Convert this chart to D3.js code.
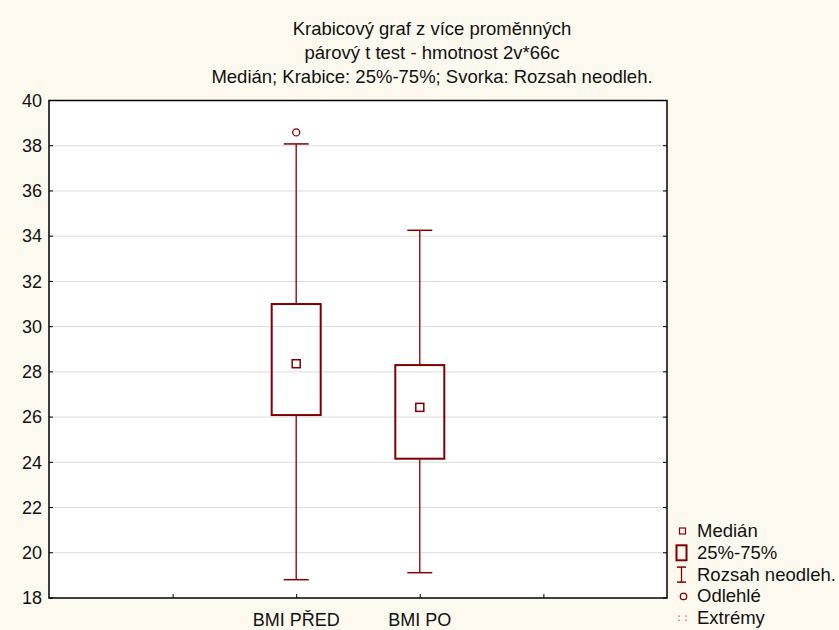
<!DOCTYPE html>
<html><head><meta charset="utf-8">
<script src="https://cdn.jsdelivr.net/npm/d3@7"></script>
<style>body{margin:0;background:#fdf9ef;}svg{display:block;font-family:"Liberation Sans",Arial,sans-serif;}</style>
</head><body>
<script>
const categories = ["BMI PŘED", "BMI PO"];
const whiskerLow = [18.81, 19.12];
const q1 = [26.09, 24.16];
const median = [28.36, 26.43];
const q3 = [31.0, 28.30];
const whiskerHigh = [38.08, 34.26];
const outliers = [[38.59], []];
const yTicks = [18, 20, 22, 24, 26, 28, 30, 32, 34, 36, 38, 40];
const titles = ["Krabicový graf z více proměnných", "párový t test - hmotnost 2v*66c", "Medián; Krabice: 25%-75%; Svorka: Rozsah neodleh."];
const legendLabels = ["Medián", "25%-75%", "Rozsah neodleh.", "Odlehlé", "Extrémy"];

const W = 839, H = 630;
const m = {l: 49, r: 667, t: 100.5, b: 598};
const col = "#800000";
const svg = d3.select("body").append("svg").attr("width", W).attr("height", H);
svg.append("rect").attr("width", W).attr("height", H).attr("fill", "#fdf9ef");
svg.append("rect").attr("x", m.l).attr("y", m.t).attr("width", m.r - m.l).attr("height", m.b - m.t).attr("fill", "#fff");

const y = d3.scaleLinear().domain([18, 40]).range([m.b, m.t]);
const x = d3.scaleLinear().domain([0, 5]).range([m.l, m.r]);
const pos = i => x(i + 2);

// gridlines
svg.append("g").selectAll("line").data(yTicks.filter(t => t > 18 && t < 40)).join("line")
  .attr("x1", m.l).attr("x2", m.r).attr("y1", d => y(d)).attr("y2", d => y(d))
  .attr("stroke", "#dcdcdc").attr("stroke-width", 1);

// y axis labels & ticks
const yAxis = d3.axisLeft(y).tickValues(yTicks).tickSize(0).tickPadding(7).tickFormat(d3.format("d"));
const ya = svg.append("g").attr("transform", `translate(${m.l},0)`).call(yAxis);
ya.select(".domain").remove();
ya.selectAll("text").attr("font-size", 18).attr("fill", "#111").attr("font-family", "Liberation Sans, Arial, sans-serif");
svg.append("g").selectAll("line").data(yTicks).join("line")
  .attr("x1", m.l).attr("x2", m.l + 4).attr("y1", d => y(d)).attr("y2", d => y(d)).attr("stroke", "#000");
svg.append("g").selectAll("line").data(yTicks).join("line")
  .attr("x1", m.r - 4).attr("x2", m.r).attr("y1", d => y(d)).attr("y2", d => y(d)).attr("stroke", "#000");

// x ticks
const xa = svg.append("g").attr("transform", `translate(0,${m.b})`)
  .call(d3.axisTop(x).tickValues([1, 2, 3, 4]).tickSize(4).tickFormat(""));
xa.select(".domain").remove();
xa.selectAll("line").attr("stroke", "#000");
svg.append("g").selectAll("text").data(categories).join("text")
  .attr("x", (d, i) => pos(i)).attr("y", 626).attr("text-anchor", "middle")
  .attr("font-size", 18).attr("fill", "#111").text(d => d);

// frame
svg.append("rect").attr("x", m.l).attr("y", m.t).attr("width", m.r - m.l).attr("height", m.b - m.t)
  .attr("fill", "none").attr("stroke", "#000").attr("stroke-width", 1.5);

// boxes
const boxW = 49, capW = 25, medS = 8;
categories.forEach((c, i) => {
  const cx = pos(i);
  const g = svg.append("g");
  g.append("line").attr("x1", cx).attr("x2", cx).attr("y1", y(whiskerHigh[i])).attr("y2", y(q3[i])).attr("stroke", col).attr("stroke-width", 1.3);
  g.append("line").attr("x1", cx).attr("x2", cx).attr("y1", y(q1[i])).attr("y2", y(whiskerLow[i])).attr("stroke", col).attr("stroke-width", 1.3);
  [whiskerHigh[i], whiskerLow[i]].forEach(v => g.append("line").attr("x1", cx - capW / 2).attr("x2", cx + capW / 2)
    .attr("y1", y(v)).attr("y2", y(v)).attr("stroke", col).attr("stroke-width", 1.5));
  g.append("rect").attr("x", cx - boxW / 2).attr("y", y(q3[i])).attr("width", boxW).attr("height", y(q1[i]) - y(q3[i]))
    .attr("fill", "none").attr("stroke", col).attr("stroke-width", 2);
  g.append("rect").attr("x", cx - medS / 2).attr("y", y(median[i]) - medS / 2).attr("width", medS).attr("height", medS)
    .attr("fill", "none").attr("stroke", col).attr("stroke-width", 1.5);
  outliers[i].forEach(v => g.append("circle").attr("cx", cx).attr("cy", y(v)).attr("r", 3.5)
    .attr("fill", "none").attr("stroke", col).attr("stroke-width", 1.3));
});

// titles
svg.append("g").selectAll("text").data(titles).join("text")
  .attr("x", 432).attr("y", (d, i) => 35 + i * 24).attr("text-anchor", "middle")
  .attr("font-size", 18.5).attr("fill", "#111").text(d => d);

// legend
const lx = 682, ly0 = 531, ldy = 21.8;
const lg = svg.append("g");
legendLabels.forEach((t, i) => {
  const cy = ly0 + i * ldy;
  lg.append("text").attr("x", 697).attr("y", cy + 6).attr("font-size", 18.5).attr("fill", "#111").text(t);
  if (i === 0) lg.append("rect").attr("x", lx - 2.5).attr("y", cy - 3).attr("width", 6).attr("height", 6).attr("fill", "none").attr("stroke", col).attr("stroke-width", 1.2);
  if (i === 1) lg.append("rect").attr("x", lx - 5.5).attr("y", cy - 7.5).attr("width", 10).attr("height", 15).attr("fill", "none").attr("stroke", col).attr("stroke-width", 2);
  if (i === 2) {
    lg.append("line").attr("x1", lx - 5).attr("x2", lx + 4).attr("y1", cy - 7.5).attr("y2", cy - 7.5).attr("stroke", col).attr("stroke-width", 1.5);
    lg.append("line").attr("x1", lx - 5).attr("x2", lx + 4).attr("y1", cy + 7.5).attr("y2", cy + 7.5).attr("stroke", col).attr("stroke-width", 1.5);
    lg.append("line").attr("x1", lx - 0.5).attr("x2", lx - 0.5).attr("y1", cy - 7.5).attr("y2", cy + 7.5).attr("stroke", col).attr("stroke-width", 1.3);
  }
  if (i === 3) lg.append("circle").attr("cx", lx + 1.5).attr("cy", cy).attr("r", 3.2).attr("fill", "none").attr("stroke", col).attr("stroke-width", 1.3);
  if (i === 4) {
    [[-3, -2], [4, -2], [-3, 2], [4, 2]].forEach(p => lg.append("rect").attr("x", lx + p[0] - 0.6).attr("y", cy + p[1] - 0.6)
      .attr("width", 1.2).attr("height", 1.2).attr("fill", "#c04040"));
  }
});
</script>
</body></html>
